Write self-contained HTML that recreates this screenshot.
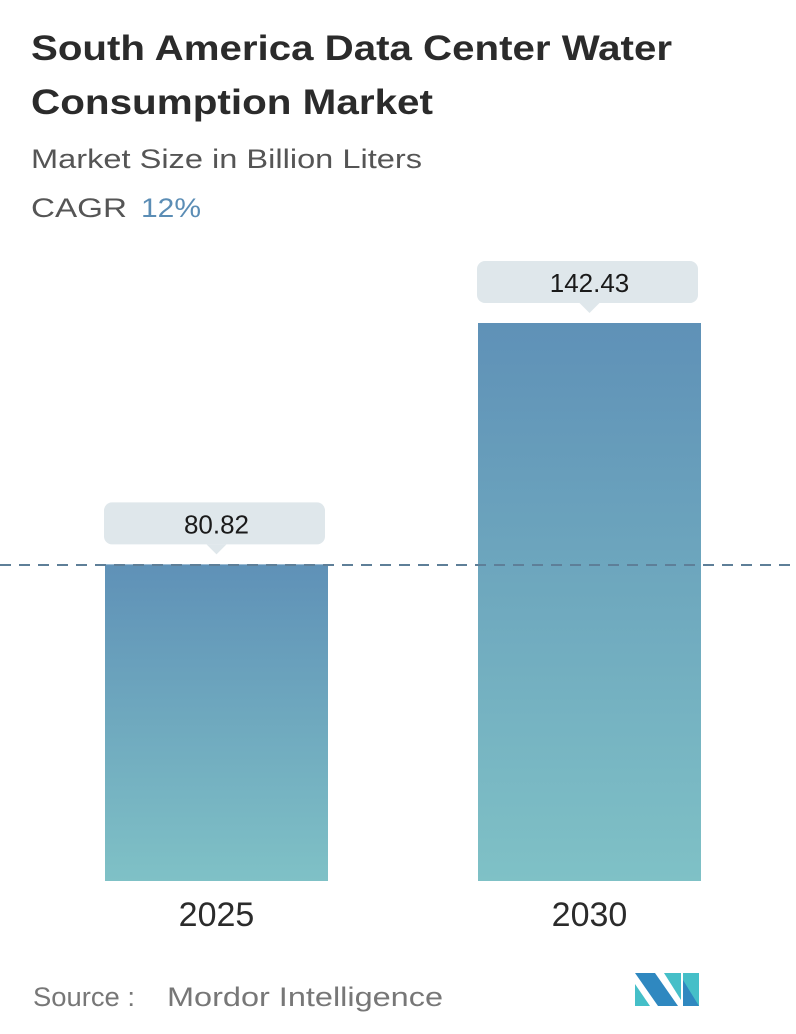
<!DOCTYPE html>
<html><head><meta charset="utf-8"><style>
body{margin:0;background:#fff;font-family:"Liberation Sans",sans-serif;}
svg{display:block}
</style></head><body>
<svg id="c" width="796" height="1034" xmlns="http://www.w3.org/2000/svg">
<defs><linearGradient id="g" x1="0" y1="0" x2="0" y2="1"><stop offset="0" stop-color="#5f91b7"/><stop offset="1" stop-color="#7fc1c6"/></linearGradient></defs>
<text x="31" y="60" font-size="35" font-weight="bold" fill="#2b2b2b" textLength="641" lengthAdjust="spacingAndGlyphs">South America Data Center Water</text>
<text x="31" y="114" font-size="35" font-weight="bold" fill="#2b2b2b" textLength="402" lengthAdjust="spacingAndGlyphs">Consumption Market</text>
<text x="31" y="168" font-size="27" fill="#555" textLength="391" lengthAdjust="spacingAndGlyphs">Market Size in Billion Liters</text>
<text x="31" y="217" font-size="27" fill="#555"><tspan textLength="96" lengthAdjust="spacingAndGlyphs">CAGR</tspan><tspan x="141" fill="#5b8db5" textLength="60" lengthAdjust="spacingAndGlyphs">12%</tspan></text>
<g id="bars"></g>
<line x1="0" y1="565" x2="796" y2="565" stroke="#5e7f98" stroke-width="2" stroke-dasharray="11,8"/>
<g id="labels"></g>
<text x="33" y="1006" font-size="27" fill="#777"><tspan textLength="102" lengthAdjust="spacingAndGlyphs">Source :</tspan><tspan x="167" textLength="276" lengthAdjust="spacingAndGlyphs">Mordor Intelligence</tspan></text>
<g>
<polygon points="635,973 655,973 678,1006 658,1006" fill="#2f88c0"/>
<polygon points="635,984 650,1006 635,1006" fill="#45bfc8"/>
<polygon points="664,973 681,973 681,1000" fill="#45bfc8"/>
<polygon points="683,973 699,973 699,1006 683,1006" fill="#45bfc8"/>
<polygon points="683,980 699,1006 683,1006" fill="#2f88c0"/>
</g>
</svg>
<script>
const categories=["2025","2030"];
const values=[80.82,142.43];
const valueLabels=["80.82","142.43"];
const ns="http://www.w3.org/2000/svg";
const base=881,scale=558/142.43;
const xs=[105,478],bw=223;
function y(v){return base-v*scale;}
const bars=document.getElementById('bars'),labels=document.getElementById('labels');
function mk(tag,attrs,parent){const e=document.createElementNS(ns,tag);for(const k in attrs)e.setAttribute(k,attrs[k]);parent.appendChild(e);return e;}
categories.forEach((c,i)=>{
 const top=y(values[i]);
 const r=mk('rect',{x:xs[i],y:top,width:bw,height:base-top,fill:'url(#g)'},bars);
 
 
 const cx=xs[i]+bw/2;
 const b=mk('rect',{x:xs[i]-1,y:top-62,width:bw-2,height:42,rx:8,fill:'#dfe7eb'},labels);
 
 
 const p=mk('polygon',{points:`${cx-10},${top-20} ${cx+10},${top-20} ${cx},${top-10}`,fill:'#dfe7eb'},labels);
 
 
 const t=mk('text',{x:cx,y:top-31,'font-size':26,'text-anchor':'middle',fill:'#1a1a1a'},labels);
 t.textContent=valueLabels[i];
 
 
 const xl=mk('text',{x:cx,y:926,'font-size':34,'text-anchor':'middle',fill:'#2b2b2b'},labels);
 xl.textContent=c;
 
 
});
</script>
</body></html>
